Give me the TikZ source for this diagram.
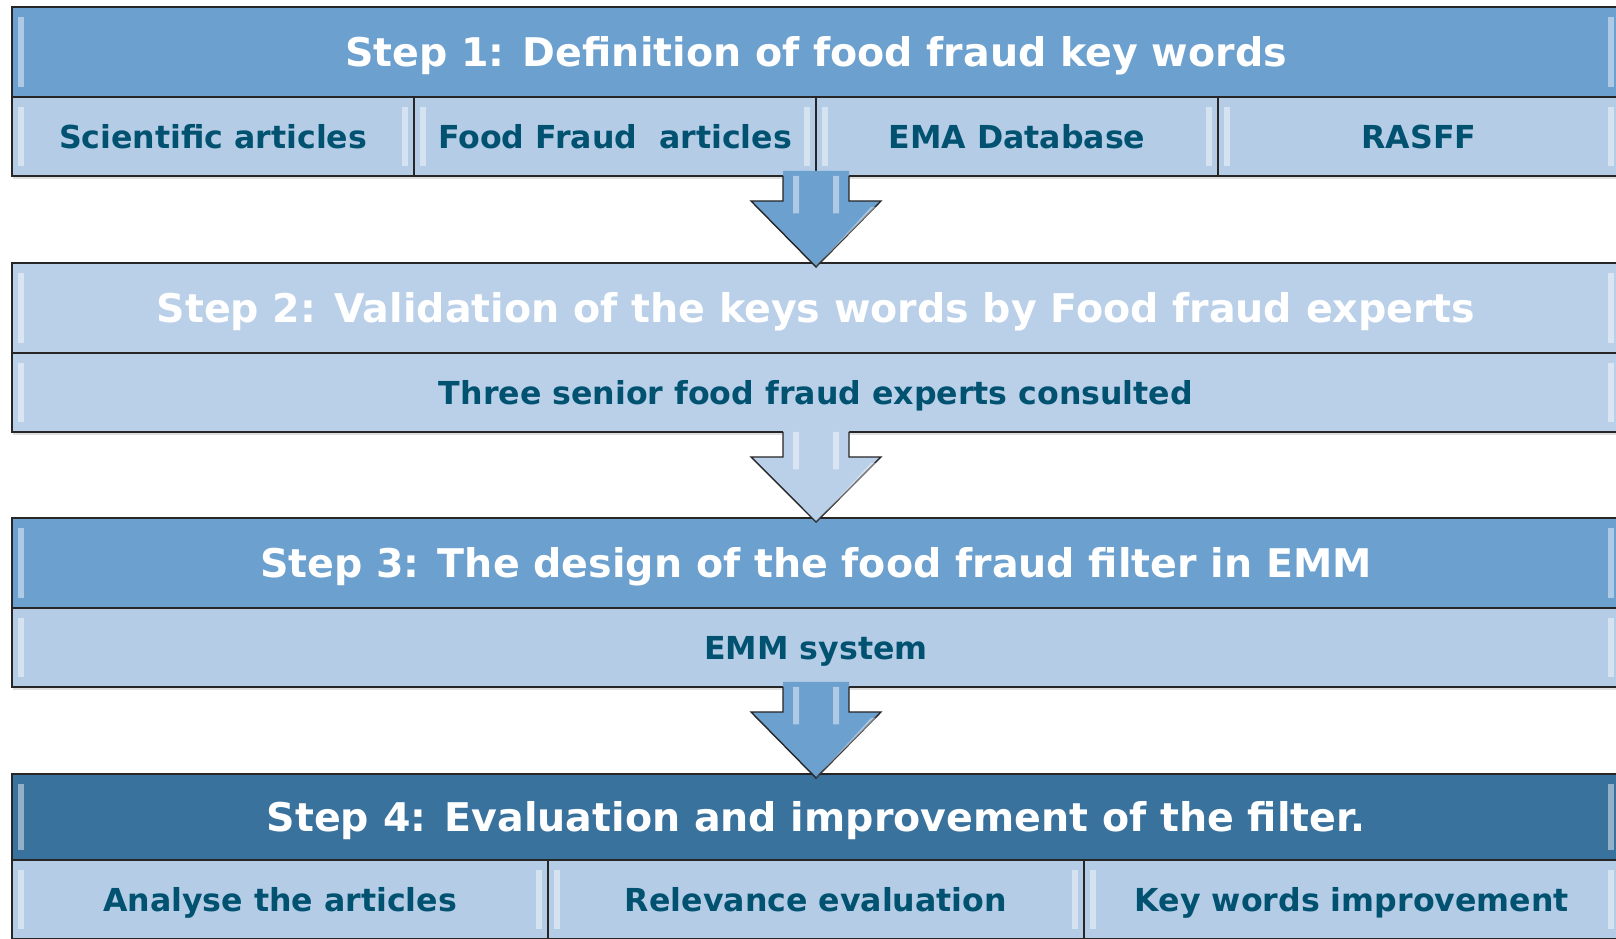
\documentclass[tikz,border=0pt]{standalone}
\usepackage{fontspec}
\setsansfont{DejaVu Sans}
\usetikzlibrary{positioning,calc,shadows}

\definecolor{midblue}{RGB}{108,160,206}
\definecolor{paleblue}{RGB}{180,204,230}
\definecolor{lightblue}{RGB}{186,208,233}
\definecolor{darkblue}{RGB}{58,114,158}
\definecolor{tealtext}{RGB}{0,82,112}

\begin{document}
\begin{tikzpicture}[x=0.02cm,y=-0.02cm,
  box/.style={draw=black!85,line width=0.8pt,inner sep=0pt,outer sep=0pt,
    drop shadow={opacity=0.25,shadow xshift=0.4pt,shadow yshift=-1.6pt},
    path picture={
      \fill[white,opacity=0.45] ([shift={(0.12cm,-0.2cm)}]path picture bounding box.north west)
        rectangle ([shift={(0.24cm,0.2cm)}]path picture bounding box.south west);
      \fill[white,opacity=0.45] ([shift={(-0.12cm,-0.2cm)}]path picture bounding box.north east)
        rectangle ([shift={(-0.24cm,0.2cm)}]path picture bounding box.south east);}},
  head/.style={box,minimum width=32.16cm,minimum height=1.8cm,text=white,
    text height=19pt,text depth=2.4pt,
    font=\sffamily\bfseries\fontsize{22.5}{27}\selectfont},
  cell/.style={box,fill=paleblue,minimum height=1.58cm,text=tealtext,
    text height=16pt,text depth=2pt,
    font=\sffamily\bfseries\fontsize{18}{22}\selectfont},
  flowarrow/.style={draw=black!85,line width=0.8pt,line join=miter}]

  \useasboundingbox (0,0) rectangle (1616,938);

  % step 1
  \node[head,fill=midblue,anchor=north] (h1) at (816,7) {Step 1: Definition of food fraud key words};
  \node[cell,minimum width=8.04cm,anchor=north west] (a1) at (h1.south west) {Scientific articles};
  \node[cell,minimum width=8.04cm,right=0pt of a1] (a2) {Food Fraud~ articles};
  \node[cell,minimum width=8.04cm,right=0pt of a2] (a3) {EMA Database};
  \node[cell,minimum width=8.04cm,right=0pt of a3] (a4) {RASFF};

  % step 2
  \node[head,fill=lightblue,anchor=north] (h2) at (816,263) {Step 2: Validation of the keys words by Food fraud experts};
  \node[cell,fill=lightblue,minimum width=32.16cm,below=0pt of h2] (b1) {Three senior food fraud experts consulted};

  % step 3
  \node[head,fill=midblue,anchor=north] (h3) at (816,518) {Step 3: The design of the food fraud filter in EMM};
  \node[cell,minimum width=32.16cm,below=0pt of h3] (c1) {EMM system};

  % step 4
  \node[head,fill=darkblue,anchor=north,minimum height=1.72cm] (h4) at (816,774) {Step 4: Evaluation and improvement of the filter.};
  \node[cell,minimum width=10.72cm,anchor=north west] (d1) at (h4.south west) {Analyse the articles};
  \node[cell,minimum width=10.72cm,right=0pt of d1] (d2) {Relevance evaluation};
  \node[cell,minimum width=10.72cm,right=0pt of d2] (d3) {Key words improvement};

  % block arrows between the steps
  \foreach \from/\to/\col in {a2.south east/h2.north/midblue,
                              b1.south/h3.north/lightblue,
                              c1.south/h4.north/midblue}{
    \path[fill=\col] let \p1=(\from), \p2=(\to) in
      (\x1-0.66cm,\y1+0.1cm) -- (\x1-0.66cm,\y1-0.5cm) -- (\x1-1.3cm,\y1-0.5cm)
      -- (\x2,\y2-0.08cm) -- (\x1+1.3cm,\y1-0.5cm) -- (\x1+0.66cm,\y1-0.5cm)
      -- (\x1+0.66cm,\y1+0.1cm) -- cycle;
    \draw[flowarrow] let \p1=(\from), \p2=(\to) in
      (\x1-0.66cm,\y1) -- (\x1-0.66cm,\y1-0.5cm) -- (\x1-1.3cm,\y1-0.5cm)
      -- (\x2,\y2-0.08cm) -- (\x1+1.3cm,\y1-0.5cm) -- (\x1+0.66cm,\y1-0.5cm)
      -- (\x1+0.66cm,\y1);
    \fill[white,opacity=0.45] let \p1=(\from) in
      (\x1-0.46cm,\y1) rectangle (\x1-0.34cm,\y1-0.75cm)
      (\x1+0.34cm,\y1) rectangle (\x1+0.46cm,\y1-0.75cm);
    \fill[white,opacity=0.4] let \p1=(\from), \p2=(\to) in
      (\x1+1.1cm,\y1-0.62cm) -- (\x1+1.2cm,\y1-0.62cm) -- (\x2+0.05cm,\y2-0.02cm) -- (\x2,\y2-0.08cm) -- cycle;
  }
\end{tikzpicture}
\end{document}
